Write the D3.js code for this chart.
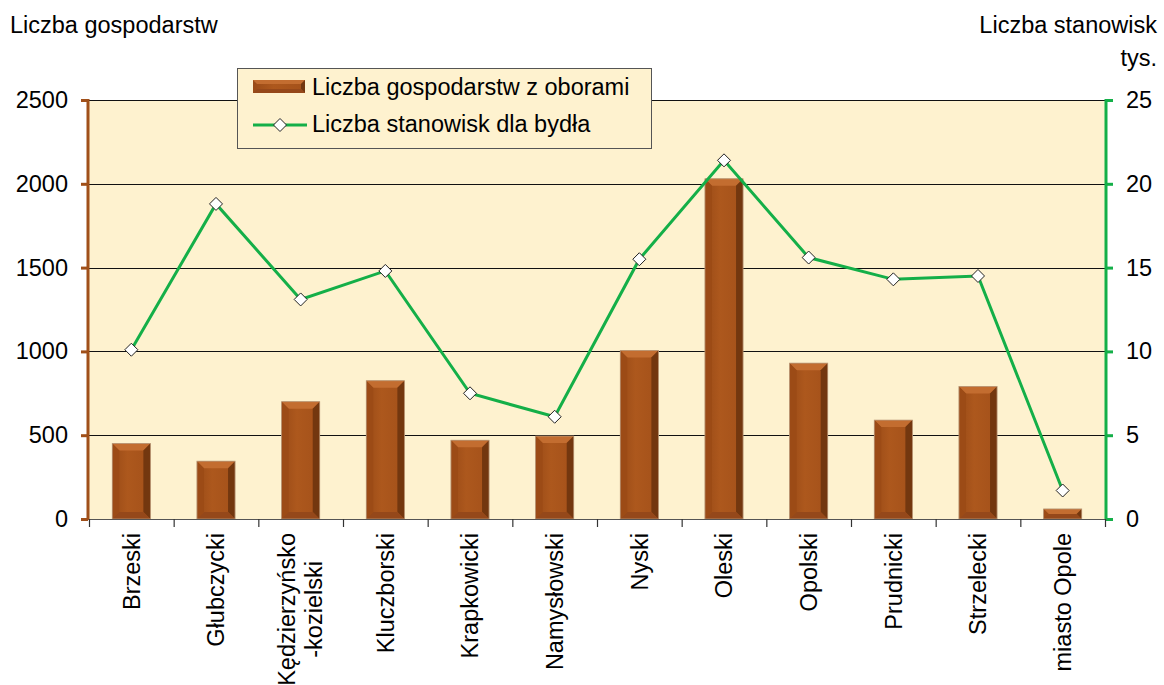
<!DOCTYPE html>
<html>
<head>
<meta charset="utf-8">
<script src="https://cdn.jsdelivr.net/npm/d3@7"></script>
<style>
  body { margin: 0; background: #fff; }
  svg { display: block; font-family: "Liberation Sans", Arial, sans-serif; }
</style>
</head>
<body>
<div id="vis"></div>
<script>
// powiaty (categories), "|" marks a line break in the label
const categories = ["Brzeski", "Głubczycki", "Kędzierzyńsko|-kozielski", "Kluczborski", "Krapkowicki",
  "Namysłowski", "Nyski", "Oleski", "Opolski", "Prudnicki", "Strzelecki", "miasto Opole"];
// liczba gospodarstw z oborami (left axis)
const farms = [450, 345, 700, 825, 470, 495, 1005, 2030, 930, 590, 790, 60];
// liczba stanowisk dla bydła, tys. (right axis)
const stalls = [10.1, 18.8, 13.1, 14.8, 7.5, 6.1, 15.5, 21.4, 15.6, 14.3, 14.5, 1.7];
const leftTicks = [0, 500, 1000, 1500, 2000, 2500];
const rightTicks = [0, 5, 10, 15, 20, 25];

const width = 1164;
const height = 685;
const plot = { left: 89, right: 1105, top: 100, bottom: 519 };
const fontSize = 23.5;

const brown = "#A0501A";
const green = "#14AF48";
const cream = "#FEF2CF";

const svg = d3.select("#vis").append("svg")
  .attr("width", width)
  .attr("height", height);

const defs = svg.append("defs");
const grad = defs.append("linearGradient").attr("id", "barGrad")
  .attr("x1", 0).attr("x2", 1).attr("y1", 0).attr("y2", 0);
grad.append("stop").attr("offset", "0%").attr("stop-color", "#9A4B17");
grad.append("stop").attr("offset", "40%").attr("stop-color", "#AD581D");
grad.append("stop").attr("offset", "100%").attr("stop-color", "#A4511A");

const x = d3.scaleBand()
  .domain(categories)
  .range([plot.left, plot.right])
  .paddingInner(0.55)
  .paddingOuter(0.275);

const yL = d3.scaleLinear().domain([0, 2500]).range([plot.bottom, plot.top]);
const yR = d3.scaleLinear().domain([0, 25]).range([plot.bottom, plot.top]);

// plot background
svg.append("rect")
  .attr("x", plot.left).attr("y", plot.top)
  .attr("width", plot.right - plot.left).attr("height", plot.bottom - plot.top)
  .attr("fill", cream);

// gridlines
svg.append("g")
  .selectAll("line")
  .data(leftTicks.filter(d => d > 0))
  .join("line")
  .attr("x1", plot.left).attr("x2", plot.right)
  .attr("y1", d => Math.round(yL(d)) + 0.5).attr("y2", d => Math.round(yL(d)) + 0.5)
  .attr("stroke", "#111").attr("stroke-width", 1);

// bars with a bevel look
const bw = x.bandwidth();
const bevel = 7;
const bars = svg.append("g").selectAll("g")
  .data(categories.map((c, i) => ({ cat: c, value: farms[i] })))
  .join("g")
  .attr("transform", d => `translate(${x(d.cat)},${yL(d.value)})`);

bars.append("rect")
  .attr("width", bw)
  .attr("height", d => plot.bottom - yL(d.value))
  .attr("fill", "url(#barGrad)");

bars.each(function(d) {
  const h = plot.bottom - yL(d.value);
  const b = Math.min(bevel, h / 2);
  const g = d3.select(this);
  // top
  g.append("polygon")
    .attr("points", `0,0 ${bw},0 ${bw - b},${b} ${b},${b}`)
    .attr("fill", "#C36D30");
  // right
  g.append("polygon")
    .attr("points", `${bw},0 ${bw},${h} ${bw - b},${h - b} ${bw - b},${b}`)
    .attr("fill", "#73370F");
  // bottom
  g.append("polygon")
    .attr("points", `0,${h} ${bw},${h} ${bw - b},${h - b} ${b},${h - b}`)
    .attr("fill", "#95481A");
  // left
  g.append("polygon")
    .attr("points", `0,0 ${b},${b} ${b},${h - b} 0,${h}`)
    .attr("fill", "#9C4B16");
  g.append("rect")
    .attr("width", bw).attr("height", h)
    .attr("fill", "none").attr("stroke", "#B89878").attr("stroke-width", 0.8);
});

// line series
const cx = d => x(d.cat) + bw / 2;
const points = categories.map((c, i) => ({ cat: c, value: stalls[i] }));
svg.append("path")
  .datum(points)
  .attr("fill", "none")
  .attr("stroke", green)
  .attr("stroke-width", 3)
  .attr("d", d3.line().x(cx).y(d => yR(d.value)));

svg.append("g").selectAll("path")
  .data(points)
  .join("path")
  .attr("d", "M0,-6.5L6.5,0L0,6.5L-6.5,0Z")
  .attr("transform", d => `translate(${cx(d)},${yR(d.value)})`)
  .attr("fill", "#fff")
  .attr("stroke", "#222")
  .attr("stroke-width", 1);

// left axis
const leftAxis = svg.append("g")
  .attr("transform", `translate(${plot.left - 1},0)`)
  .call(d3.axisLeft(yL).tickValues(leftTicks).tickSize(7).tickPadding(13).tickFormat(d3.format("d")));
leftAxis.select(".domain").attr("stroke", brown).attr("stroke-width", 3).attr("d", `M0,${plot.bottom + 1}V${plot.top - 1}`);
leftAxis.selectAll(".tick line").attr("stroke", brown).attr("stroke-width", 3);
leftAxis.selectAll(".tick text").attr("font-size", fontSize).attr("fill", "#000")
  .attr("font-family", "Liberation Sans, Arial, sans-serif");

// right axis
const rightAxis = svg.append("g")
  .attr("transform", `translate(${plot.right + 1},0)`)
  .call(d3.axisRight(yR).tickValues(rightTicks).tickSize(7).tickPadding(13));
rightAxis.select(".domain").attr("stroke", green).attr("stroke-width", 3).attr("d", `M0,${plot.bottom + 1}V${plot.top - 1}`);
rightAxis.selectAll(".tick line").attr("stroke", green).attr("stroke-width", 3);
rightAxis.selectAll(".tick text").attr("font-size", fontSize).attr("fill", "#000")
  .attr("font-family", "Liberation Sans, Arial, sans-serif");

// bottom axis with ticks between categories
const step = x.step();
const bottom = svg.append("g");
bottom.append("line")
  .attr("x1", plot.left).attr("x2", plot.right)
  .attr("y1", plot.bottom + 0.5).attr("y2", plot.bottom + 0.5)
  .attr("stroke", "#555").attr("stroke-width", 1.2);
bottom.selectAll("line.tk")
  .data(d3.range(categories.length + 1))
  .join("line")
  .attr("class", "tk")
  .attr("x1", i => plot.left + i * step + 0.5).attr("x2", i => plot.left + i * step + 0.5)
  .attr("y1", plot.bottom).attr("y2", plot.bottom + 8)
  .attr("stroke", "#333").attr("stroke-width", 1.2);

// rotated category labels
const labelTop = 533;
const lineGap = 27;
categories.forEach(c => {
  const lines = c.split("|");
  const g = svg.append("g")
    .attr("transform", `translate(${x(c) + bw / 2},${labelTop}) rotate(-90)`);
  const texts = lines.map((t, k) => g.append("text")
    .attr("font-size", fontSize)
    .attr("dy", "0.35em")
    .attr("y", (k - (lines.length - 1) / 2) * lineGap)
    .attr("text-anchor", "middle")
    .text(t));
  const maxW = d3.max(texts, t => t.node().getComputedTextLength());
  texts.forEach(t => t.attr("x", -maxW / 2));
});

// axis titles
svg.append("text").attr("x", 10).attr("y", 33).attr("font-size", fontSize).text("Liczba gospodarstw");
svg.append("text").attr("x", 1157).attr("y", 33).attr("font-size", fontSize).attr("text-anchor", "end").text("Liczba stanowisk");
svg.append("text").attr("x", 1157).attr("y", 66).attr("font-size", fontSize).attr("text-anchor", "end").text("tys.");

// legend
const legend = svg.append("g").attr("transform", "translate(237,68)");
legend.append("rect")
  .attr("x", 0.5).attr("y", 0.5).attr("width", 414).attr("height", 80)
  .attr("fill", cream).attr("stroke", "#555").attr("stroke-width", 1);
const sw = legend.append("g").attr("transform", "translate(16,12)");
sw.append("rect").attr("width", 52).attr("height", 13).attr("fill", "url(#barGrad)");
sw.append("polygon").attr("points", "0,0 52,0 48,4 4,4").attr("fill", "#C36D30");
sw.append("polygon").attr("points", "52,0 52,13 48,9 48,4").attr("fill", "#73370F");
sw.append("polygon").attr("points", "0,13 52,13 48,9 4,9").attr("fill", "#95481A");
legend.append("text").attr("x", 75).attr("y", 27).attr("font-size", fontSize).text("Liczba gospodarstw z oborami");
legend.append("line").attr("x1", 16).attr("x2", 70).attr("y1", 57).attr("y2", 57)
  .attr("stroke", green).attr("stroke-width", 3);
legend.append("path").attr("d", "M0,-6.5L6.5,0L0,6.5L-6.5,0Z")
  .attr("transform", "translate(43,57)")
  .attr("fill", "#fff").attr("stroke", "#222").attr("stroke-width", 1);
legend.append("text").attr("x", 75).attr("y", 64).attr("font-size", fontSize).text("Liczba stanowisk dla bydła");
</script>
</body>
</html>
